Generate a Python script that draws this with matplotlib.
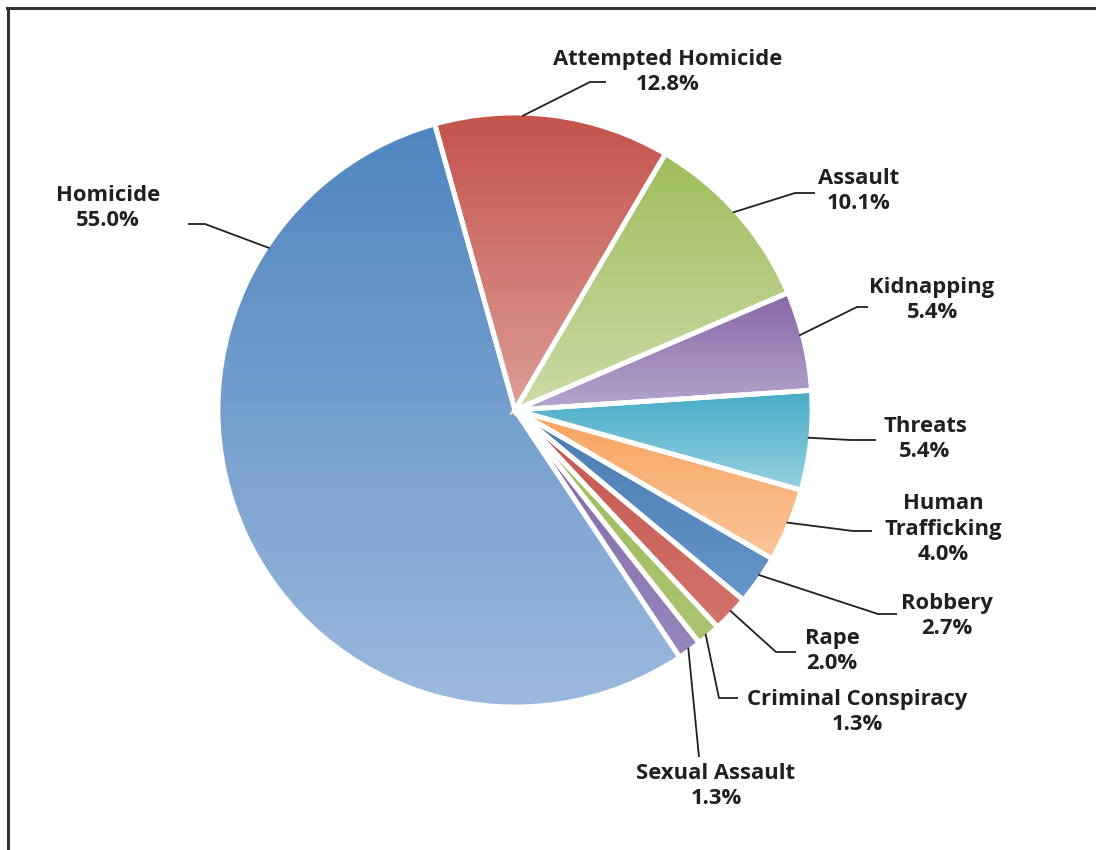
import numpy as np
import matplotlib.pyplot as plt
from matplotlib.colors import to_rgb
from matplotlib.lines import Line2D

# data
labels = ["Attempted Homicide", "Assault", "Kidnapping", "Threats", "Human\nTrafficking",
          "Robbery", "Rape", "Criminal Conspiracy", "Sexual Assault", "Homicide"]
values = [12.8, 10.1, 5.4, 5.4, 4.0, 2.7, 2.0, 1.3, 1.3, 55.0]

top_colors = ["#c4534b", "#9fbd5b", "#8767a6", "#47acc7", "#f8a35e",
              "#4a7bb2", "#c4554d", "#9cbb5a", "#8366a4", "#4f85c0"]
bottom_colors = ["#dd9d98", "#cbdba8", "#b5a6cc", "#96d1e0", "#fbc59a",
                 "#6595c9", "#d2736c", "#abc571", "#9686bc", "#9cb9dd"]

W, H = 1096, 850
cx, cy = 515, 410          # pie centre (image px)
R = 297

# label layout (image px): text centre, horizontal start, elbow, anchor angle (deg)
text_pos = [(668, 72), (859, 191), (932, 300), (925, 439), (943, 529),
            (947, 616), (832, 651), (857, 712), (716, 786), (108, 208)]
line_start = [(606, 82), (815, 193), (868, 307), (876, 440), (872, 531),
              (897, 614), (796, 652), (738, 698), (699, 757), (188, 224)]
line_elbow = [(590, 82), (795, 193), (857, 307), (850, 440), (853, 531),
              (878, 614), (776, 652), (719, 698), (699, 757), (205, 224)]
anchor_ang = [88.6, 42.2, 14.7, -5.4, -22.5, -34.1, -43.0, -49.6, -53.9, 146.6]

plt.rcParams['font.family'] = ['Open Sans', 'DejaVu Sans']

fig = plt.figure(figsize=(W / 100, H / 100), dpi=100)
ax = fig.add_axes([0, 0, 1, 1])

start = 90 + np.degrees(np.arctan2(80, 285))
wedges, _ = ax.pie(values, startangle=start, counterclock=False, radius=R,
                   center=(cx, H - cy), explode=[0.012] * len(values),
                   wedgeprops=dict(edgecolor='white', linewidth=3.5), frame=True)

# vertical gradient in every slice
for w, ct, cb in zip(wedges, top_colors, bottom_colors):
    ext = w.get_path().get_extents()
    t = np.linspace(0, 1, 256)[:, None, None]
    grad = (1 - t) * np.array(to_rgb(cb)) + t * np.array(to_rgb(ct))
    im = ax.imshow(grad, extent=[ext.x0, ext.x1, ext.y0, ext.y1], origin='lower',
                   aspect='auto', zorder=1, interpolation='bilinear')
    im.set_clip_path(w)
    w.set_facecolor('none')
    w.set_zorder(2)

ax.set_xlim(0, W)
ax.set_ylim(0, H)
ax.axis('off')

txt_col = '#231f20'
for lab, v, tp, ls, le, a in zip(labels, values, text_pos, line_start, line_elbow, anchor_ang):
    ax.text(tp[0], H - tp[1], f"{lab}\n{v:.1f}%", ha='center', va='center',
            fontsize=15.8, fontweight='bold', color=txt_col, linespacing=1.27, zorder=5)
    ax_x = cx + (R - 3) * np.cos(np.radians(a))
    ax_y = cy - (R - 3) * np.sin(np.radians(a))
    ax.plot([ls[0], le[0], ax_x], [H - ls[1], H - le[1], H - ax_y],
            color=txt_col, lw=1.3, zorder=4, solid_capstyle='butt')

# frame on left and top
fig.add_artist(Line2D([7.5 / W, 7.5 / W], [0, 1 - 8 / H], color='#333333', lw=2.2))
fig.add_artist(Line2D([6.5 / W, 1], [1 - 8 / H, 1 - 8 / H], color='#333333', lw=2.2))

fig.savefig('out.png', dpi=100)
